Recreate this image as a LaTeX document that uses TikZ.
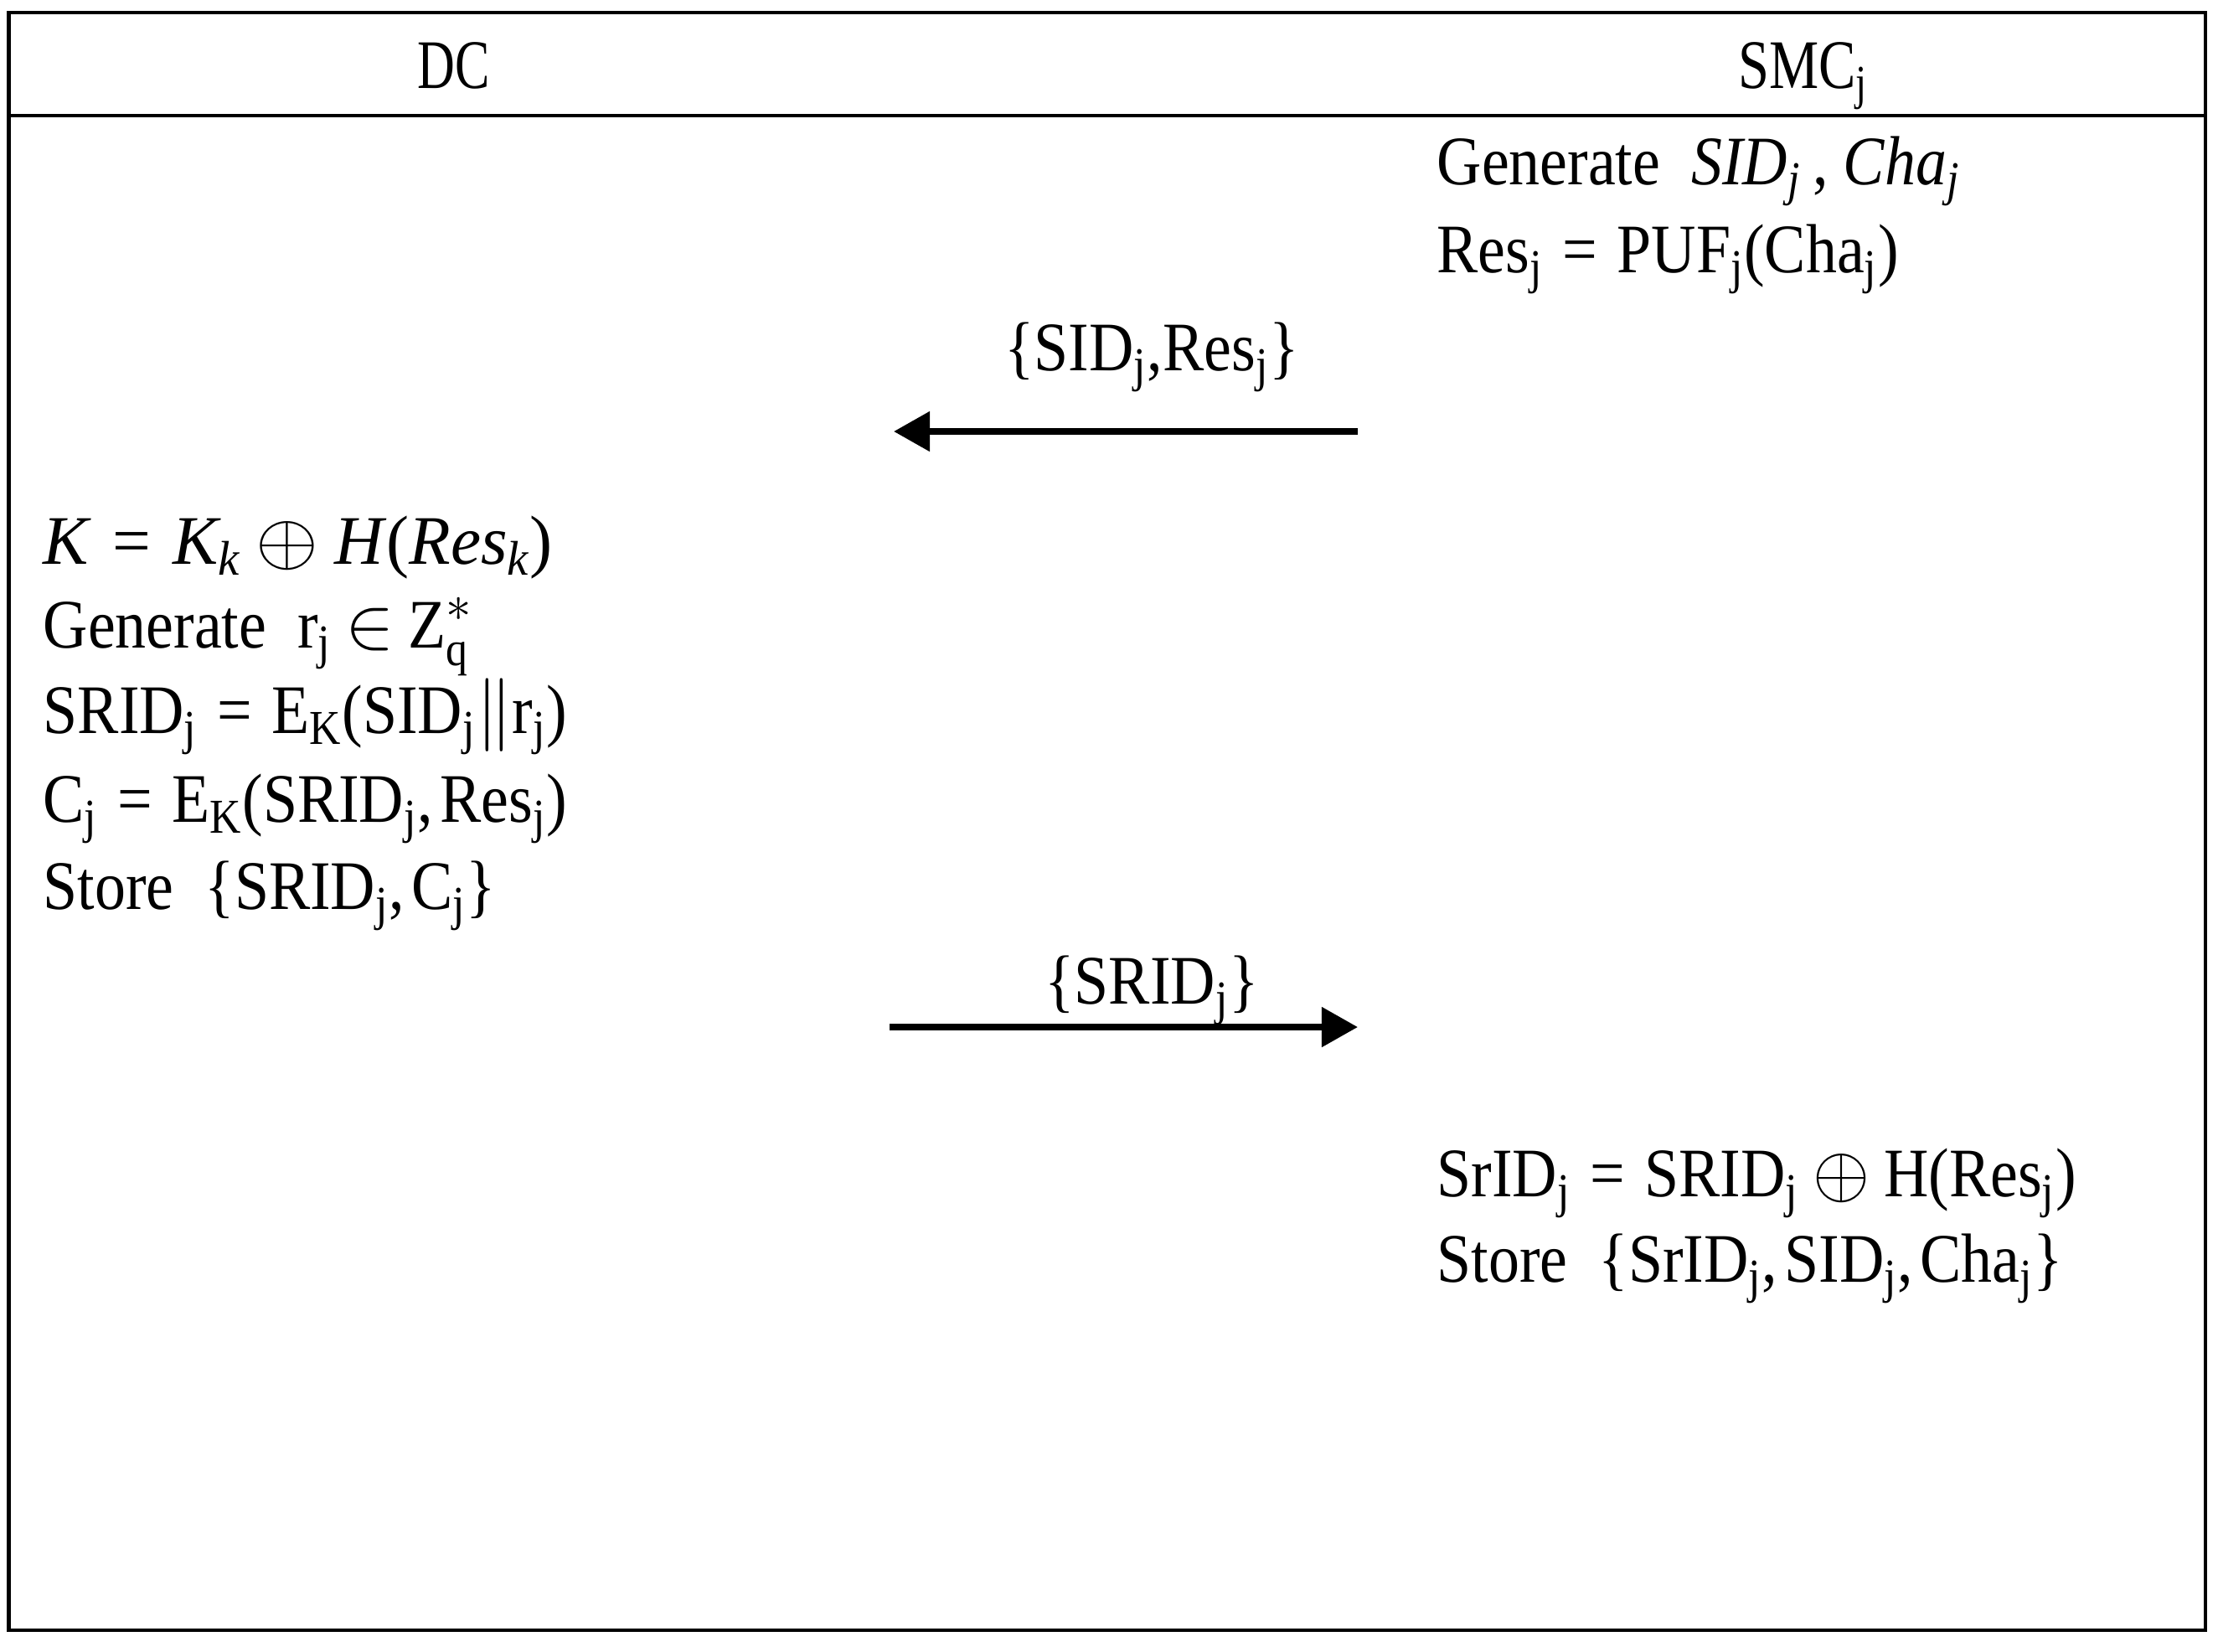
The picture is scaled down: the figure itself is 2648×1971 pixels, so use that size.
\documentclass[tikz,border=0pt]{standalone}
\usepackage{fontspec}
\setmainfont{Liberation Serif}[FakeStretch=0.89]
\usetikzlibrary{arrows.meta}
\newcommand{\js}{\textsubscript{j}}
\newcommand{\eqs}{\hspace{0.28em}=\hspace{0.28em}}
\newcommand{\xor}{\hspace{0.2em}$\oplus$\hspace{0.2em}}
\newcommand{\cm}{,\hspace{0.1em}}
\tikzset{
  frame/.style={line width=1.15pt, line cap=rect},
  txt/.style={inner sep=0pt, font=\fontsize{23.6}{28}\selectfont},
  lefttxt/.style={txt, anchor=base west},
  ctrtxt/.style={txt, anchor=base},
  msg/.style={line width=2.3pt, -{Triangle[length=0.43cm,width=0.46cm]}}
}
\begin{document}
\begin{tikzpicture}[x=0.01cm,y=-0.01cm]
\useasboundingbox (0,0) rectangle (2648,1971);
\draw[frame] (10.5,15) rectangle (2633,1946);
\draw[frame] (10.5,138) -- (2633,138);
% headers
\node[ctrtxt] (dc) at (542,105) {\scalebox{0.84}[1]{DC}};
\node[ctrtxt] (smc) at (2153,105) {\scalebox{0.9}[1]{SMC\js}};
% SMC first block
\node[lefttxt] (s1) at (1715,220) {Generate \ \textit{SID\textsubscript{j}}\,, \textit{Cha\textsubscript{j}}};
\node[lefttxt] (s2) at (1715,325) {Res\js\eqs PUF\js(Cha\js)};
% message 1
\coordinate (a1s) at (1621,515);
\coordinate (a1e) at (1067,515);
\draw[msg] (a1s) -- (a1e);
\node[ctrtxt] (m1) at (1375,442) {\{SID\js,Res\js\}};
% DC block
\node[lefttxt] (d1) at (51,673) {\scalebox{1.1}[1]{\textit{K}\eqs\textit{K\textsubscript{k}}\xor\textit{H}(\textit{Res\textsubscript{k}})}};
\node[lefttxt] (d2) at (51,773) {Generate \ r\js\hspace{0.2em}$\in$\hspace{0.2em}Z$^{*}_{\mbox{\fontsize{16.5}{18}\selectfont q}}$};
\node[lefttxt] (d3) at (51,875) {SRID\js\eqs E\textsubscript{K}(SID\js$\|$r\js)};
\node[lefttxt] (d4) at (51,981) {C\js\eqs E\textsubscript{K}(SRID\js\cm Res\js)};
\node[lefttxt] (d5) at (51,1085) {Store \ \{SRID\js\cm C\js\}};
% message 2
\coordinate (a2s) at (1062,1226);
\coordinate (a2e) at (1621,1226);
\draw[msg] (a2s) -- (a2e);
\node[ctrtxt] (m2) at (1375,1198) {\{SRID\js\}};
% SMC second block
\node[lefttxt] (s3) at (1715,1428) {SrID\js\eqs SRID\js\xor H(Res\js)};
\node[lefttxt] (s4) at (1715,1530) {Store \ \{SrID\js\cm SID\js\cm Cha\js\}};
\end{tikzpicture}
\end{document}
